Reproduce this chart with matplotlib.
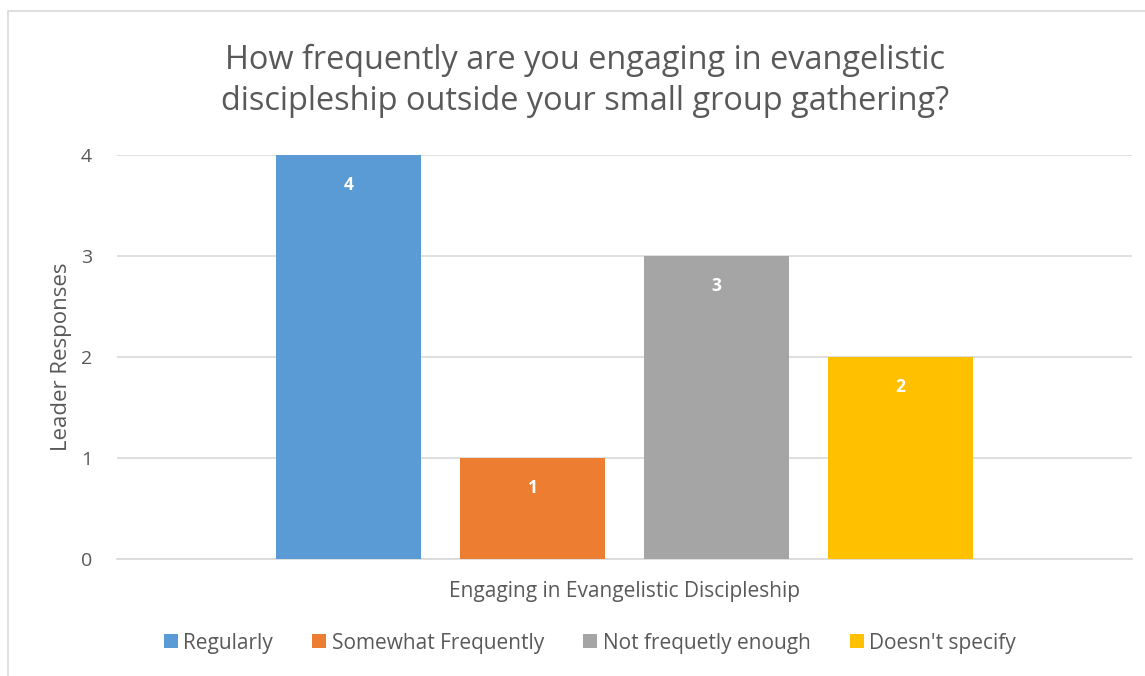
import matplotlib.pyplot as plt
from matplotlib.patches import Rectangle

plt.rcParams['font.family'] = ['Open Sans', 'DejaVu Sans']

# Survey data
category = 'Engaging in Evangelistic Discipleship'
series = ['Regularly', 'Somewhat Frequently', 'Not frequetly enough', "Doesn't specify"]
responses = [4, 1, 3, 2]
colors = ['#5B9BD5', '#ED7D31', '#A5A5A5', '#FFC000']

text_color = '#595959'
W, H = 1145, 676
fig = plt.figure(figsize=(W / 100, H / 100), dpi=100)

# chart frame
fig.patches.append(Rectangle((8 / W, -0.01), 1.2, (H - 11) / H + 0.01,
                             transform=fig.transFigure, fill=False,
                             edgecolor='#D9D9D9', linewidth=1.2))

ax = fig.add_axes([117 / W, (H - 559) / H, 1015 / W, 404 / H])

bar_w = 145 / 1015
step = 184 / 1015
for i, (name, val, c) in enumerate(zip(series, responses, colors)):
    x = (i - 1.5) * step
    ax.bar(x, val, width=bar_w, color=c, label=name, zorder=3)
    ax.text(x, val - 0.3, str(val), ha='center', va='center',
            color='white', fontsize=12.5, fontweight='bold', zorder=4)

ax.set_xlim(-0.5, 0.5)
ax.set_ylim(0, 4)
ax.set_yticks(range(0, 5))
ax.set_xticks([])
ax.yaxis.grid(True, color='#D9D9D9', linewidth=1.2, zorder=0)
for s in ['top', 'right', 'left']:
    ax.spines[s].set_visible(False)
ax.spines['bottom'].set_color('#D9D9D9')
ax.spines['bottom'].set_linewidth(1.2)
ax.tick_params(axis='y', length=0, labelsize=14, labelcolor=text_color, pad=18)

ax.set_xlabel(category, fontsize=15, color=text_color, va='center')
ax.xaxis.set_label_coords(0.5, (559 - 592) / 404)
ax.set_ylabel('Leader Responses', fontsize=16, color=text_color, va='center')
ax.yaxis.set_label_coords((62 - 117) / 1015, (559 - 357) / 404)

fig.text(585 / W, 1 - 81 / H,
         'How frequently are you engaging in evangelistic\n'
         'discipleship outside your small group gathering?',
         ha='center', va='center', fontsize=23.4, color=text_color,
         linespacing=1.32)

fig.legend(loc='center', bbox_to_anchor=(590 / W, 1 - 643 / H), ncol=4,
           frameon=False, fontsize=15, labelcolor=text_color,
           handlelength=0.67, handleheight=0.67, handletextpad=0.25,
           columnspacing=1.9)

fig.savefig('out.png', dpi=100)
